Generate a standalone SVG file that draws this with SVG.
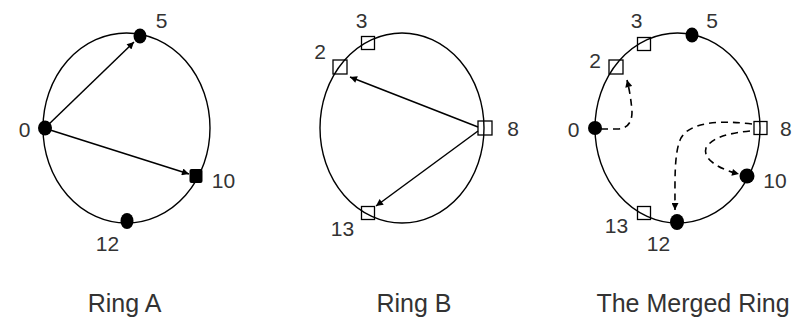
<svg xmlns="http://www.w3.org/2000/svg" width="793" height="320" viewBox="0 0 793 320">
<defs>
<style>
.ring{fill:none;stroke:#000;stroke-width:1.4}
.fn{fill:#000}
.sq{fill:none;stroke:#000;stroke-width:1.3}
.arr{fill:none;stroke:#000;stroke-width:1.5;marker-end:url(#ah)}
.dash{fill:none;stroke:#000;stroke-width:1.6;stroke-dasharray:7 5;marker-end:url(#ah)}
.lbl{font-family:"Liberation Sans",Arial,sans-serif;font-size:21px;fill:#333;text-anchor:middle}
.cap{font-family:"Liberation Sans",Arial,sans-serif;font-size:25px;fill:#333;text-anchor:middle}
</style>
<marker id="ah" viewBox="0 0 10 10" refX="10" refY="5" markerWidth="9" markerHeight="7" markerUnits="userSpaceOnUse" orient="auto">
<path d="M0,0 L10,5 L0,10 z" fill="#000"/>
</marker>
</defs>
<rect width="793" height="320" fill="#fff"/>

<g id="ringA">
<ellipse class="ring" cx="126.5" cy="128" rx="83.5" ry="95"/>
</g>
<g id="ringB">
<ellipse class="ring" cx="402" cy="128" rx="82" ry="95"/>
</g>
<g id="ringM">
<ellipse class="ring" cx="677.5" cy="128" rx="82.5" ry="95"/>
</g>

<g id="connectors">
<line class="arr" x1="47" y1="126" x2="134" y2="42"/>
<line class="arr" x1="47" y1="129" x2="189" y2="174"/>
<line class="arr" x1="478" y1="127" x2="350" y2="77"/>
<line class="arr" x1="478" y1="131" x2="376" y2="206"/>
<path class="dash" d="M601 129 L618 129 Q632 128 632 112 Q631 96 627 80"/>
<path class="dash" d="M752 124 C720 120 690 122 681 138 C674 152 675 180 675 210"/>
<path class="dash" d="M750 131 C730 133 712 137 706 148 C702 160 722 170 739 174"/>
</g>

<g id="A0"><ellipse class="fn" cx="45" cy="128" rx="7" ry="7.5"/><text class="lbl" x="24.5" y="137">0</text></g>
<g id="A5"><ellipse class="fn" cx="140" cy="36" rx="6.5" ry="7.5"/><text class="lbl" x="161.5" y="28">5</text></g>
<g id="A10"><rect class="fn" x="189.5" y="169" width="13" height="14" rx="2"/><text class="lbl" x="223.5" y="188">10</text></g>
<g id="A12"><ellipse class="fn" cx="127" cy="221" rx="6.5" ry="8"/><text class="lbl" x="107.5" y="251">12</text></g>

<g id="B3"><rect class="sq" x="361.5" y="36.5" width="13" height="13"/><text class="lbl" x="361.5" y="28">3</text></g>
<g id="B2"><rect class="sq" x="333" y="60" width="14" height="14"/><text class="lbl" x="320" y="59">2</text></g>
<g id="B8"><rect class="sq" x="478" y="121" width="14" height="14"/><text class="lbl" x="513" y="136">8</text></g>
<g id="B13"><rect class="sq" x="361.5" y="206.5" width="13" height="13"/><text class="lbl" x="342.5" y="236">13</text></g>

<g id="M3"><rect class="sq" x="637.5" y="37.5" width="13" height="13"/><text class="lbl" x="636.5" y="28">3</text></g>
<g id="M5"><ellipse class="fn" cx="692" cy="35" rx="6.5" ry="7.5"/><text class="lbl" x="712" y="28">5</text></g>
<g id="M2"><rect class="sq" x="609" y="60" width="14" height="14"/><text class="lbl" x="595" y="68">2</text></g>
<g id="M0"><ellipse class="fn" cx="595" cy="128" rx="7" ry="7"/><text class="lbl" x="573.5" y="137">0</text></g>
<g id="M8"><rect class="sq" x="754" y="121.5" width="13" height="13"/><text class="lbl" x="780" y="136" style="text-anchor:start">8</text></g>
<g id="M10"><ellipse class="fn" cx="747" cy="176" rx="7.5" ry="7.5"/><text class="lbl" x="775" y="188">10</text></g>
<g id="M13"><rect class="sq" x="637.5" y="206.5" width="13" height="13"/><text class="lbl" x="616.5" y="233">13</text></g>
<g id="M12"><ellipse class="fn" cx="677" cy="222" rx="7" ry="8"/><text class="lbl" x="658.5" y="251">12</text></g>

<g id="captions">
<text class="cap" x="124.5" y="312">Ring A</text>
<text class="cap" x="414" y="312">Ring B</text>
<text class="cap" x="693" y="312">The Merged Ring</text>
</g>
</svg>
